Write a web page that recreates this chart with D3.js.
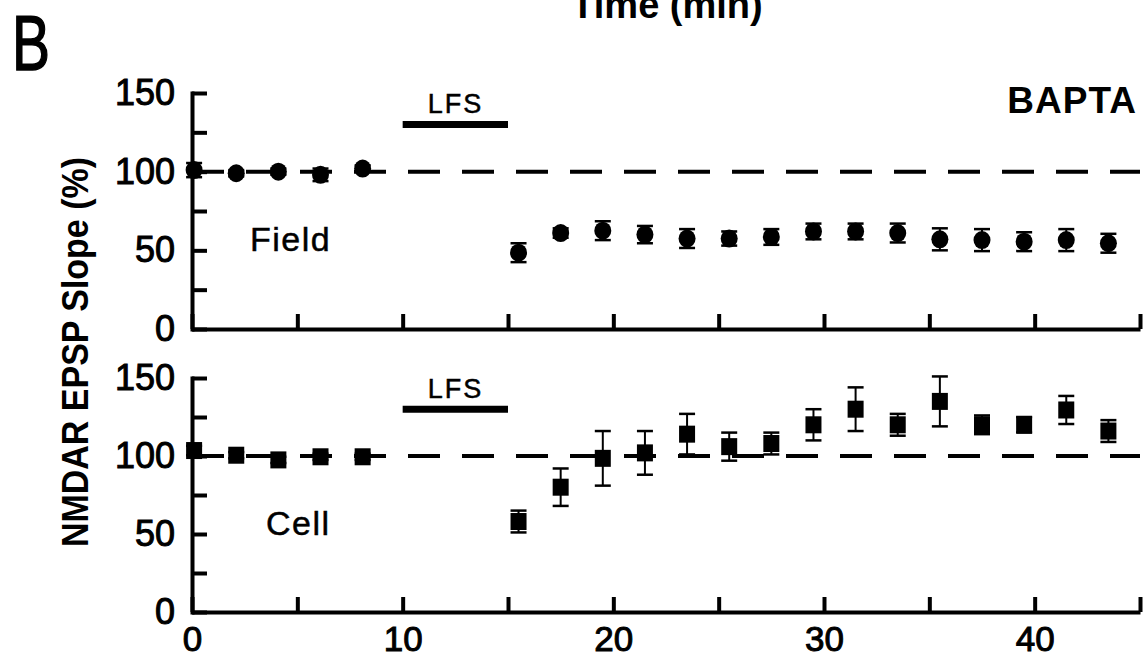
<!DOCTYPE html>
<html>
  <head>
    <meta charset="utf-8" />
    <title>NMDAR EPSP Slope - BAPTA</title>
    <script src="https://d3js.org/d3.v7.min.js"></script>
    <style>
      body { margin: 0; background: #fff; }
      text { font-family: "Liberation Sans", Arial, Helvetica, sans-serif; fill: #000; }
    </style>
  </head>
  <body>
    <svg id="chart" width="1143" height="660"></svg>

    <script>
      // time points (min)
      var times = [0.1, 2.1, 4.1, 6.1, 8.1, 15.5, 17.5, 19.5, 21.5, 23.5, 25.5, 27.5, 29.5, 31.5, 33.5, 35.5, 37.5, 39.5, 41.5, 43.5];

      // Field recordings (circles)
      var fieldMean = [101, 99, 100, 98, 102, 48.5, 61, 62.5, 60, 57.5, 57.5, 58.5, 62, 62, 61, 57, 56.5, 55.5, 56.5, 54.5];
      var fieldErr = [4.5, 2, 2, 4, 2, 6, 3, 6, 5.5, 6, 4.5, 5, 5, 5, 6, 7, 7, 6, 7, 6];

      // Cell recordings (squares)
      var cellMean = [103.5, 100.5, 97.5, 99.5, 99.5, 58, 80, 98.5, 102, 114, 106, 108, 120, 130, 120, 135, 120, 120, 129.5, 116];
      var cellErr = [3, 2, 2, 2, 2, 7, 12, 17.5, 14, 13, 9, 7, 10, 14, 7, 16, 6, 5, 9, 7];

      var yTicks = [0, 25, 50, 75, 100, 125, 150];
      var yLabels = [0, 50, 100, 150];
      var xTicks = [0, 5, 10, 15, 20, 25, 30, 35, 40, 45];
      var xLabels = [0, 10, 20, 30, 40];
      var lfsWindow = [10, 15];

      var svg = d3.select("#chart");

      var x = d3.scaleLinear().domain([0, 45]).range([192, 1140]);
      var yTop = d3.scaleLinear().domain([0, 150]).range([329, 93]);
      var yBot = d3.scaleLinear().domain([0, 150]).range([612, 378]);

      // heavier look for the regular-weight labels
      function heavy(sel, w) {
        sel.attr("stroke", "#000").attr("stroke-width", w).attr("paint-order", "stroke");
      }

      function drawPanel(y, means, errs, shape, name) {
        var g = svg.append("g");

        // x axis (ticks pointing inwards)
        var xa = g.append("g")
          .attr("transform", "translate(0," + y(0) + ")")
          .call(d3.axisBottom(x).tickValues(xTicks).tickSizeInner(-15).tickSizeOuter(0).tickFormat(""));
        xa.selectAll("path, line").attr("stroke", "#000").attr("stroke-width", 4);

        // y axis
        var ya = g.append("g")
          .attr("transform", "translate(" + x(0) + ",0)")
          .call(d3.axisLeft(y).tickValues(yTicks).tickSizeInner(-15).tickSizeOuter(0).tickPadding(17)
            .tickFormat(function (d) { return yLabels.indexOf(d) >= 0 ? d : ""; }));
        ya.selectAll("path, line").attr("stroke", "#000").attr("stroke-width", 4);
        ya.select(".domain").attr("stroke-linecap", "square");
        var yt = ya.selectAll("text").attr("font-size", 36).attr("fill", "#000")
          .style("font-family", "'Liberation Sans', Arial, sans-serif");
        heavy(yt, 1);

        // 100% reference line
        g.append("line")
          .attr("x1", x(0)).attr("x2", x(45))
          .attr("y1", y(100)).attr("y2", y(100))
          .attr("stroke", "#000").attr("stroke-width", 4)
          .attr("stroke-dasharray", "32,22");

        // LFS bar
        g.append("line")
          .attr("x1", x(lfsWindow[0])).attr("x2", x(lfsWindow[1]))
          .attr("y1", y(130)).attr("y2", y(130))
          .attr("stroke", "#000").attr("stroke-width", 7);
        var lt = g.append("text")
          .attr("x", x(lfsWindow[0]) + 25).attr("y", y(130) - 11)
          .attr("font-size", 27).attr("letter-spacing", 2)
          .text("LFS");
        heavy(lt, 0.5);

        // error bars
        var eb = g.selectAll(".eb").data(times).enter().append("g");
        eb.append("line")
          .attr("x1", function (d) { return x(d); })
          .attr("x2", function (d) { return x(d); })
          .attr("y1", function (d, i) { return y(means[i] - errs[i]); })
          .attr("y2", function (d, i) { return y(means[i] + errs[i]); })
          .attr("stroke", "#000").attr("stroke-width", 2);
        [-1, 1].forEach(function (s) {
          eb.append("line")
            .attr("x1", function (d) { return x(d) - 8; })
            .attr("x2", function (d) { return x(d) + 8; })
            .attr("y1", function (d, i) { return y(means[i] + s * errs[i]); })
            .attr("y2", function (d, i) { return y(means[i] + s * errs[i]); })
            .attr("stroke", "#000").attr("stroke-width", 2.5);
        });

        // markers
        if (shape === "circle") {
          g.selectAll(".pt").data(times).enter().append("ellipse")
            .attr("cx", function (d) { return x(d); })
            .attr("cy", function (d, i) { return y(means[i]); })
            .attr("rx", 8.5).attr("ry", 9)
            .attr("fill", "#000");
        } else {
          g.selectAll(".pt").data(times).enter().append("rect")
            .attr("x", function (d) { return x(d) - 8; })
            .attr("y", function (d, i) { return y(means[i]) - 8.5; })
            .attr("width", 16).attr("height", 17)
            .attr("fill", "#000");
        }

        // panel name
        var nt = g.append("text")
          .attr("x", name.x).attr("y", name.y)
          .attr("font-size", 34).attr("letter-spacing", 1.5)
          .text(name.text);
        heavy(nt, 0.5);

        return g;
      }

      drawPanel(yTop, fieldMean, fieldErr, "circle", { text: "Field", x: 250, y: 251 });
      drawPanel(yBot, cellMean, cellErr, "square", { text: "Cell", x: 266, y: 535 });

      // bottom axis labels
      var xl = svg.append("g")
        .attr("transform", "translate(0," + yBot(0) + ")")
        .call(d3.axisBottom(x).tickValues(xLabels).tickSize(0).tickFormat(d3.format("d")));
      xl.select(".domain").remove();
      var xt = xl.selectAll("text").attr("y", 39).attr("dy", 0).attr("font-size", 35).attr("fill", "#000")
        .style("font-family", "'Liberation Sans', Arial, sans-serif");
      heavy(xt, 1);

      // titles
      svg.append("text")
        .attr("x", 667).attr("y", 18)
        .attr("text-anchor", "middle")
        .attr("font-size", 38).attr("font-weight", "bold")
        .text("Time (min)");

      var bt = svg.append("text")
        .attr("x", 12).attr("y", 70)
        .attr("font-size", 78)
        .attr("textLength", 38).attr("lengthAdjust", "spacingAndGlyphs")
        .text("B");
      heavy(bt, 1.5);

      svg.append("text")
        .attr("x", 1137).attr("y", 113)
        .attr("text-anchor", "end")
        .attr("font-size", 37).attr("font-weight", "bold").attr("letter-spacing", 1)
        .text("BAPTA");

      svg.append("text")
        .attr("transform", "translate(88,352) rotate(-90)")
        .attr("text-anchor", "middle")
        .attr("font-size", 37).attr("font-weight", "bold")
        .attr("textLength", 390).attr("lengthAdjust", "spacingAndGlyphs")
        .text("NMDAR EPSP Slope (%)");
    </script>
  </body>
</html>
